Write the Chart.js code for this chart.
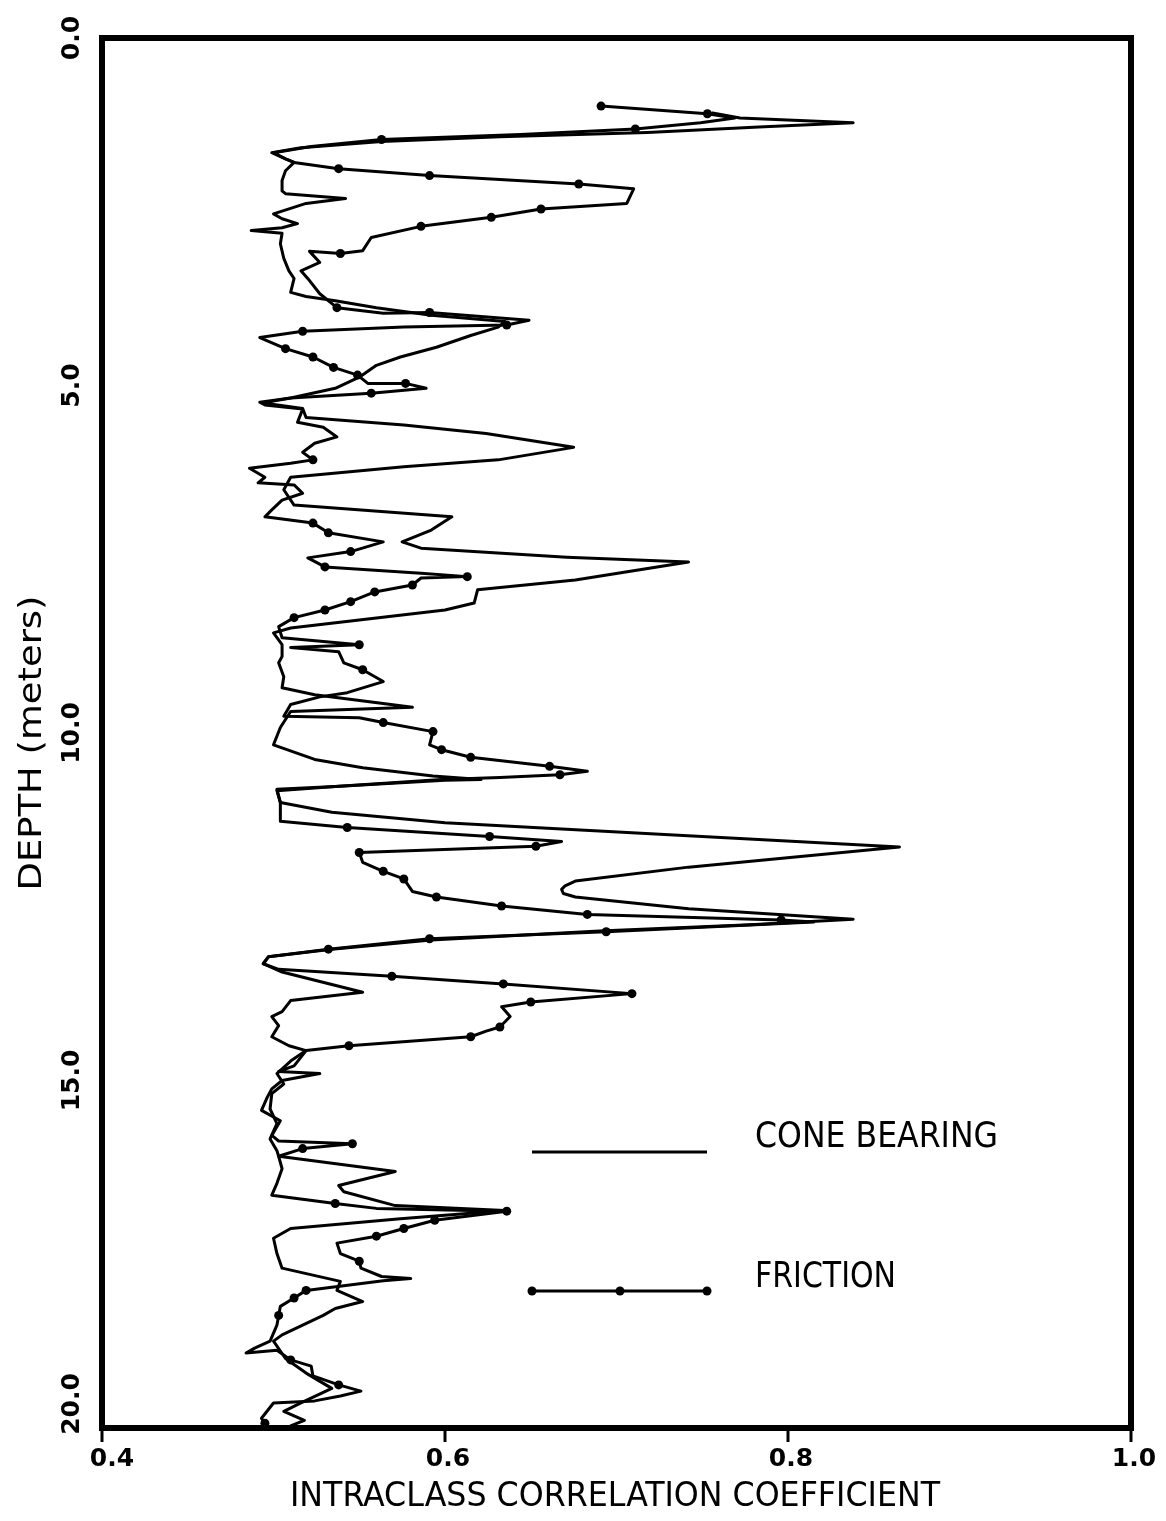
<!DOCTYPE html>
<html>
<head>
<meta charset="utf-8">
<script src="https://cdn.jsdelivr.net/npm/chart.js@4.4.1/dist/chart.umd.min.js"></script>
<style>
    html, body { margin: 0; padding: 0; background: #fff; }
    #wrap { width: 1166px; height: 1521px; }
</style>
</head>
<body>
<div id="wrap"><canvas id="depth-chart" width="1166" height="1521"></canvas></div>
<script>
// axis ticks
var xTicks = [0.4, 0.6, 0.8, 1.0];
var yTicks = [0, 5, 10, 15, 20];

// cone bearing profile (depth in meters, intraclass correlation)
var coneDepth = [1.08, 1.15, 1.22, 1.28, 1.36, 1.42, 1.49, 1.58, 1.65, 1.74, 1.79, 1.91, 2.05, 2.20, 2.24, 2.31, 2.38, 2.53, 2.60, 2.67,
    2.73, 2.77, 2.81, 2.96, 3.17, 3.35, 3.46, 3.66, 3.72, 3.78, 3.88, 3.99, 4.08, 4.16, 4.28, 4.45, 4.59, 4.71, 4.88, 5.04,
    5.18, 5.25, 5.33, 5.46, 5.57, 5.69, 5.89, 6.07, 6.17, 6.32, 6.50, 6.72, 6.89, 7.08, 7.25, 7.34, 7.47, 7.54, 7.80, 7.94,
    8.13, 8.23, 8.49, 8.56, 8.73, 8.90, 8.99, 9.19, 9.35, 9.45, 9.63, 9.69, 9.92, 10.17, 10.38, 10.50, 10.62, 10.67, 10.68, 10.77,
    10.83, 11.00, 11.14, 11.29, 11.46, 11.64, 11.93, 12.13, 12.20, 12.25, 12.31, 12.36, 12.53, 12.68, 12.76, 12.85, 12.98, 13.11, 13.22, 13.32, 13.44, 13.73,
    13.85, 14.01, 14.08, 14.21, 14.37, 14.50, 14.57, 14.72, 14.90, 15.05, 15.19, 15.41, 15.62, 15.84, 16.01, 16.09, 16.31, 16.51, 16.60, 16.80,
    16.87, 16.99, 17.13, 17.27, 17.49, 17.70, 17.89, 18.02, 18.18, 18.28, 18.38, 18.66, 18.75, 19.00, 19.21, 19.43, 19.64, 19.76, 19.89, 19.97];
var coneIcc = [0.756, 0.772, 0.838, 0.783, 0.718, 0.632, 0.563, 0.516, 0.499, 0.507, 0.512, 0.507, 0.505, 0.505, 0.507, 0.542, 0.519, 0.500, 0.505, 0.514,
    0.505, 0.487, 0.505, 0.504, 0.506, 0.509, 0.512, 0.510, 0.519, 0.536, 0.560, 0.592, 0.635, 0.631, 0.615, 0.595, 0.574, 0.560, 0.550, 0.536,
    0.510, 0.494, 0.517, 0.519, 0.576, 0.624, 0.675, 0.631, 0.576, 0.510, 0.506, 0.512, 0.604, 0.592, 0.575, 0.586, 0.671, 0.742, 0.676, 0.619,
    0.617, 0.600, 0.510, 0.500, 0.505, 0.505, 0.503, 0.506, 0.505, 0.524, 0.581, 0.510, 0.504, 0.500, 0.524, 0.552, 0.593, 0.621, 0.600, 0.536,
    0.502, 0.504, 0.534, 0.600, 0.728, 0.865, 0.742, 0.676, 0.670, 0.668, 0.669, 0.676, 0.742, 0.838, 0.778, 0.690, 0.592, 0.534, 0.497, 0.494, 0.505, 0.552,
    0.510, 0.505, 0.499, 0.503, 0.499, 0.509, 0.519, 0.510, 0.502, 0.506, 0.499, 0.498, 0.502, 0.498, 0.502, 0.503, 0.571, 0.538, 0.541, 0.571,
    0.635, 0.574, 0.510, 0.500, 0.502, 0.505, 0.539, 0.537, 0.552, 0.536, 0.529, 0.505, 0.500, 0.507, 0.519, 0.534, 0.516, 0.506, 0.518, 0.510];

// friction profile, frictionMark = 1 where the sample carries a dot
var frictionDepth = [0.98, 1.09, 1.15, 1.22, 1.31, 1.39, 1.46, 1.56, 1.65, 1.74, 1.79, 1.88, 1.98, 2.10, 2.17, 2.38, 2.46, 2.58, 2.71, 2.87,
    3.06, 3.10, 3.07, 3.23, 3.35, 3.49, 3.68, 3.88, 3.96, 3.95, 4.06, 4.13, 4.16, 4.22, 4.31, 4.47, 4.59, 4.74, 4.85, 4.97,
    4.97, 5.04, 5.11, 5.18, 5.24, 5.28, 5.34, 5.53, 5.60, 5.74, 5.83, 5.96, 6.07, 6.12, 6.19, 6.32, 6.40, 6.43, 6.55, 6.65,
    6.79, 6.89, 6.98, 7.12, 7.25, 7.39, 7.48, 7.61, 7.70, 7.75, 7.77, 7.87, 7.97, 8.11, 8.23, 8.34, 8.47, 8.63, 8.73, 8.77,
    8.83, 8.99, 9.09, 9.26, 9.42, 9.48, 9.59, 9.76, 9.78, 9.85, 9.98, 10.17, 10.24, 10.35, 10.48, 10.55, 10.60, 10.64, 10.67, 10.77,
    10.81, 11.00, 11.27, 11.36, 11.49, 11.56, 11.63, 11.72, 11.86, 11.99, 12.10, 12.28, 12.36, 12.49, 12.61, 12.69, 12.72, 12.86, 12.96, 13.11,
    13.22, 13.32, 13.40, 13.50, 13.61, 13.75, 13.87, 13.94, 14.08, 14.23, 14.29, 14.37, 14.50, 14.57, 14.79, 14.87, 14.90, 15.00, 15.12, 15.26,
    15.43, 15.58, 15.79, 15.87, 15.91, 15.98, 16.09, 16.27, 16.48, 16.65, 16.77, 16.84, 16.88, 17.01, 17.13, 17.24, 17.34, 17.49, 17.60, 17.70,
    17.82, 17.85, 17.88, 18.02, 18.13, 18.25, 18.38, 18.52, 18.75, 18.85, 18.92, 18.88, 19.02, 19.11, 19.25, 19.38, 19.47, 19.54, 19.61, 19.64,
    19.86, 19.93];
var frictionIcc = [0.691, 0.753, 0.769, 0.749, 0.711, 0.644, 0.563, 0.522, 0.500, 0.507, 0.512, 0.538, 0.591, 0.678, 0.710, 0.706, 0.656, 0.627, 0.586, 0.557,
    0.552, 0.539, 0.521, 0.527, 0.516, 0.521, 0.527, 0.537, 0.564, 0.591, 0.649, 0.636, 0.576, 0.517, 0.492, 0.507, 0.523, 0.535, 0.549, 0.555,
    0.577, 0.589, 0.557, 0.510, 0.492, 0.495, 0.517, 0.514, 0.529, 0.537, 0.524, 0.517, 0.523, 0.510, 0.486, 0.495, 0.491, 0.512, 0.517, 0.505,
    0.499, 0.495, 0.523, 0.532, 0.564, 0.545, 0.520, 0.530, 0.586, 0.613, 0.586, 0.581, 0.559, 0.545, 0.530, 0.512, 0.503, 0.505, 0.550, 0.510,
    0.538, 0.541, 0.552, 0.564, 0.543, 0.527, 0.510, 0.506, 0.550, 0.564, 0.593, 0.591, 0.598, 0.615, 0.661, 0.683, 0.667, 0.632, 0.598, 0.536,
    0.502, 0.504, 0.504, 0.543, 0.626, 0.668, 0.653, 0.550, 0.552, 0.564, 0.576, 0.581, 0.595, 0.633, 0.683, 0.796, 0.815, 0.694, 0.591, 0.532,
    0.497, 0.494, 0.503, 0.569, 0.634, 0.709, 0.650, 0.633, 0.638, 0.632, 0.624, 0.615, 0.544, 0.519, 0.512, 0.503, 0.527, 0.505, 0.499, 0.496,
    0.493, 0.504, 0.499, 0.503, 0.546, 0.517, 0.503, 0.505, 0.502, 0.499, 0.536, 0.560, 0.636, 0.594, 0.576, 0.560, 0.537, 0.539, 0.550, 0.551,
    0.563, 0.580, 0.564, 0.519, 0.512, 0.504, 0.503, 0.502, 0.498, 0.489, 0.484, 0.502, 0.510, 0.522, 0.523, 0.538, 0.551, 0.539, 0.524, 0.500,
    0.493, 0.495];
var frictionMark = [1, 1, 0, 0, 1, 0, 1, 0, 0, 0, 0, 1, 1, 1, 0, 0, 1, 1, 1, 0,
    0, 1, 0, 0, 0, 0, 0, 1, 0, 1, 0, 1, 0, 1, 0, 1, 1, 1, 1, 0,
    1, 0, 1, 0, 0, 0, 0, 0, 0, 0, 0, 0, 1, 0, 0, 0, 0, 0, 0, 0,
    0, 0, 1, 1, 0, 1, 0, 1, 0, 1, 0, 1, 1, 1, 1, 1, 0, 0, 1, 0,
    0, 0, 1, 0, 0, 0, 0, 0, 0, 1, 1, 0, 1, 1, 1, 0, 1, 0, 0, 0,
    0, 0, 0, 1, 1, 0, 1, 1, 0, 1, 1, 0, 1, 1, 1, 1, 0, 1, 1, 1,
    0, 0, 0, 1, 1, 1, 1, 0, 0, 1, 0, 1, 1, 0, 0, 0, 0, 0, 0, 0,
    0, 0, 0, 0, 1, 1, 0, 0, 0, 0, 1, 0, 1, 1, 1, 1, 0, 0, 1, 0,
    0, 0, 0, 1, 1, 0, 1, 0, 0, 0, 0, 0, 1, 0, 0, 1, 0, 0, 0, 0,
    0, 1];

var xTitle = "INTRACLASS CORRELATION COEFFICIENT";
var yTitle = "DEPTH (meters)";

var narrowFont = '"Liberation Sans Narrow", "DejaVu Sans Condensed", sans-serif';
var tickFont = 'bold 25px "DejaVu Sans", sans-serif';

function toPoints(depth, icc) {
    return depth.map(function (d, i) { return { x: icc[i], y: d }; });
}

// text squeezed/stretched to a given width
function drawFitted(c, text, font, width, x, y, angle) {
    c.save();
    c.font = font;
    var w = c.measureText(text).width;
    c.translate(x, y);
    c.rotate(angle || 0);
    c.scale(width / w, 1);
    c.textAlign = "center";
    c.textBaseline = "middle";
    c.fillText(text, 0, 0);
    c.restore();
}

var axisDecor = {
    id: "axisDecor",
    afterDraw: function (chart) {
        var c = chart.ctx, a = chart.chartArea;
        var sx = chart.scales.x, sy = chart.scales.y;
        c.save();
        c.strokeStyle = "#000";
        c.fillStyle = "#000";

        // frame
        c.lineWidth = 6;
        c.strokeRect(a.left, a.top, a.right - a.left, a.bottom - a.top);

        // x ticks and labels
        c.lineWidth = 3;
        c.font = tickFont;
        c.textAlign = "center";
        c.textBaseline = "middle";
        xTicks.forEach(function (v, i) {
            var px = sx.getPixelForValue(v);
            c.beginPath();
            c.moveTo(px, a.bottom);
            c.lineTo(px, a.bottom + 14);
            c.stroke();
            c.fillText(v.toFixed(1), px + (i === 0 ? 10 : 3), a.bottom + 31);
        });

        // y labels, rotated
        yTicks.forEach(function (v, i) {
            var py = sy.getPixelForValue(v);
            if (i === yTicks.length - 1) py -= 24;
            c.save();
            c.translate(72, py);
            c.rotate(-Math.PI / 2);
            c.fillText(v.toFixed(1), 0, 0);
            c.restore();
        });

        drawFitted(c, xTitle, "34px " + narrowFont, 650, 615, 1497, 0);
        drawFitted(c, yTitle, "32px " + narrowFont, 295, 33, 743, -Math.PI / 2);

        // legend
        var ds = chart.data.datasets;
        c.lineWidth = 3;
        c.beginPath();
        c.moveTo(532, 1152);
        c.lineTo(707, 1152);
        c.stroke();
        drawFitted(c, ds[0].label, "36px " + narrowFont, 243, 755 + 243 / 2, 1138, 0);

        c.beginPath();
        c.moveTo(532, 1291);
        c.lineTo(707, 1291);
        c.stroke();
        [532, 620, 707].forEach(function (px) {
            c.beginPath();
            c.arc(px, 1291, 4.5, 0, Math.PI * 2);
            c.fill();
        });
        drawFitted(c, ds[1].label, "36px " + narrowFont, 141, 755 + 141 / 2, 1278, 0);
        c.restore();
    }
};

var ctx = document.getElementById("depth-chart").getContext("2d");
var myChart = new Chart(ctx, {
    type: "scatter",
    data: {
        datasets: [{
            label: "CONE BEARING",
            data: toPoints(coneDepth, coneIcc),
            showLine: true,
            borderColor: "#000",
            backgroundColor: "#000",
            borderWidth: 3,
            borderJoinStyle: "round",
            borderCapStyle: "round",
            pointRadius: 0,
            tension: 0
        }, {
            label: "FRICTION",
            data: toPoints(frictionDepth, frictionIcc),
            showLine: true,
            borderColor: "#000",
            backgroundColor: "#000",
            borderWidth: 3,
            borderJoinStyle: "round",
            borderCapStyle: "round",
            pointBorderWidth: 0,
            pointRadius: function (c) { return frictionMark[c.dataIndex] ? 4.5 : 0; },
            tension: 0
        }]
    },
    options: {
        responsive: false,
        animation: false,
        layout: { padding: { top: 38, right: 35, left: 0, bottom: 0 } },
        plugins: {
            legend: { display: false },
            tooltip: { enabled: false }
        },
        scales: {
            x: {
                type: "linear",
                min: 0.4,
                max: 1.0,
                grid: { display: false },
                border: { display: false },
                ticks: { display: false },
                afterFit: function (s) { s.height = 93; }
            },
            y: {
                type: "linear",
                reverse: true,
                min: 0,
                max: 20,
                grid: { display: false },
                border: { display: false },
                ticks: { display: false },
                afterFit: function (s) { s.width = 102; }
            }
        }
    },
    plugins: [axisDecor]
});
</script>
</body>
</html>
